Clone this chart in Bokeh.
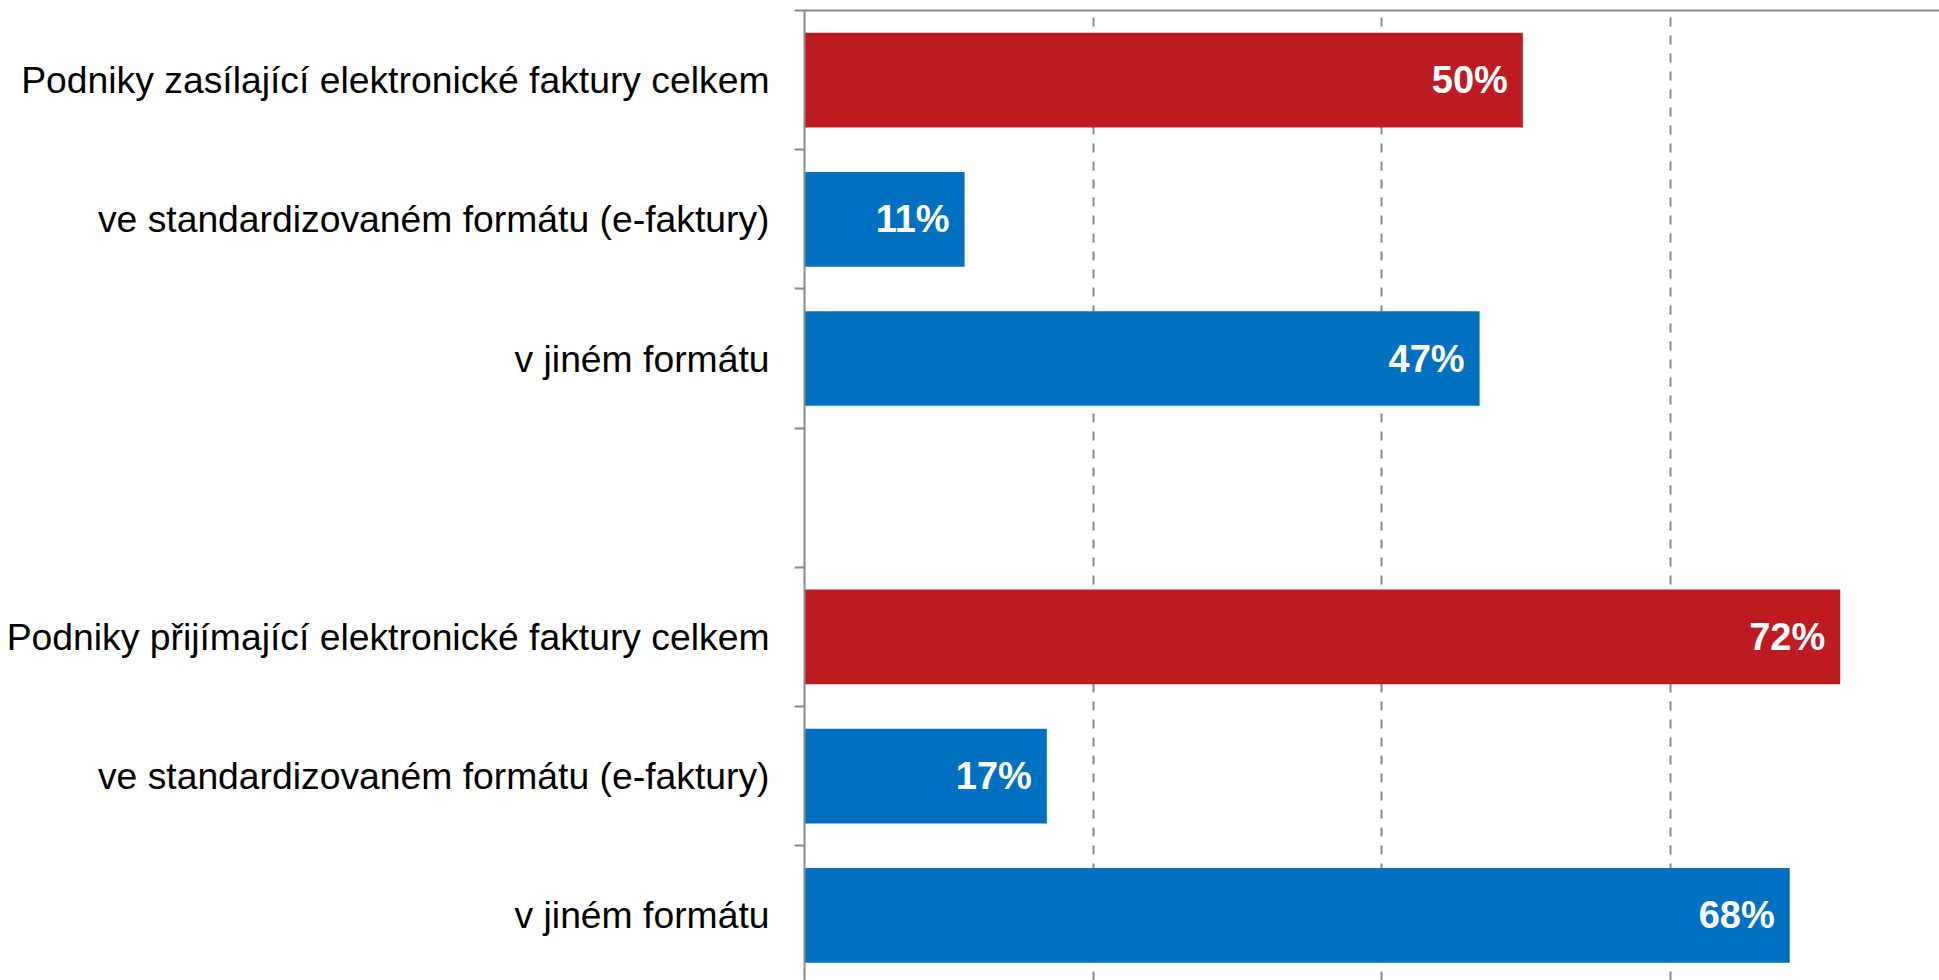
from bokeh.plotting import figure
from bokeh.models import FixedTicker, LinearAxis, Range1d, ColumnDataSource
from bokeh.core.properties import value
from bokeh.embed import file_html
from bokeh.resources import INLINE

# ---- data ----
categories = [
    "Podniky zasílající elektronické faktury celkem",
    "ve standardizovaném formátu (e-faktury)",
    "v jiném formátu",
    "Podniky přijímající elektronické faktury celkem",
    "ve standardizovaném formátu (e-faktury)",
    "v jiném formátu",
]
values = [49.8, 11.1, 46.8, 71.8, 16.8, 68.3]
is_total = [True, False, False, True, False, False]
# slot index from the top (slot 3 is an empty gap between the two groups)
slots = [0, 1, 2, 4, 5, 6]
n_slots = 7
grid_ticks = [20, 40, 60]

RED = "#BE1A22"
BLUE = "#0070C0"
GRAY = "#8a8a8a"

ys = [n_slots - s - 0.5 for s in slots]
colors = [RED if t else BLUE for t in is_total]
labels = [f"{round(v)}%" for v in values]
src = ColumnDataSource(dict(y=ys, v=values, c=colors, lab=labels))

W, H = 1939, 980
left_px = 804
px_per_pct = 14.425
px_per_slot = 139.2
top_px = 10
plot_w = W - left_px
plot_h = H - top_px

p = figure(width=W, height=H, output_backend="svg", toolbar_location=None,
           x_range=Range1d(0, plot_w / px_per_pct),
           y_range=Range1d(n_slots - plot_h / px_per_slot, n_slots),
           x_axis_location=None, y_axis_location=None,
           min_border_left=left_px, min_border_right=0,
           min_border_top=top_px, min_border_bottom=0)
p.outline_line_color = None
p.background_fill_color = "white"
p.border_fill_color = "white"

p.hbar(y="y", right="v", left=0, height=0.68, color="c", line_color=None, source=src)
p.text(x="v", y="y", text="lab", source=src, x_offset=-15,
       text_align="right", text_baseline="middle", text_color="white",
       text_font=value("Liberation Sans"), text_font_style="bold",
       text_font_size="38px")

# grid
p.ygrid.visible = False
p.xgrid.ticker = FixedTicker(ticks=grid_ticks)
p.xgrid.grid_line_color = GRAY
p.xgrid.grid_line_width = 2
p.xgrid.grid_line_dash = "9 9"

# left category axis: labels at slot centres, tick marks at slot boundaries
centres = [n_slots - s - 0.5 for s in slots]
boundaries = list(range(0, n_slots + 1))
yax = LinearAxis(ticker=FixedTicker(ticks=centres, minor_ticks=boundaries))
yax.major_label_overrides = {c: lab for c, lab in zip(centres, categories)}
yax.axis_line_color = GRAY
yax.axis_line_width = 2
yax.major_tick_line_color = None
yax.major_tick_out = 10
yax.major_tick_in = 0
yax.minor_tick_line_color = GRAY
yax.minor_tick_line_width = 2
yax.minor_tick_out = 10
yax.minor_tick_in = 0
yax.major_label_standoff = 25
yax.major_label_text_font = "Liberation Sans"
yax.major_label_text_font_size = "37.3px"
yax.major_label_text_color = "black"
p.add_layout(yax, "left")

# top axis line
xax = LinearAxis(ticker=FixedTicker(ticks=[]))
xax.axis_line_color = GRAY
xax.axis_line_width = 2
xax.major_tick_line_color = None
xax.minor_tick_line_color = None
xax.major_tick_out = 0
xax.major_tick_in = 0
xax.minor_tick_out = 0
xax.minor_tick_in = 0
xax.major_label_text_font_size = "0px"
xax.major_label_standoff = 0
p.add_layout(xax, "above")

open("out.html", "w").write(file_html(p, INLINE))
